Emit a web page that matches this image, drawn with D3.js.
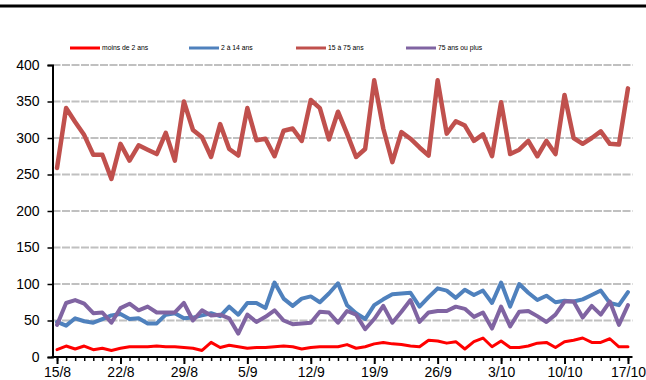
<!DOCTYPE html>
<html>
<head>
<meta charset="utf-8">
<script src="https://cdn.jsdelivr.net/npm/d3@7"></script>
<style>
  html, body { margin: 0; padding: 0; background: #fff; }
  svg { display: block; font-family: "Liberation Sans", Arial, sans-serif; }
</style>
</head>
<body>
<svg id="chart" width="646" height="380"></svg>
<script>
// Daily counts by age group, 15 August to 17 October
const startDate = new Date(2020, 7, 15);
const dayCount = 64;
const dates = d3.range(dayCount).map(i => d3.timeDay.offset(startDate, i));
const dayLabel = d3.timeFormat("%-d/%-m");

const seriesNames = ["moins de 2 ans", "2 à 14 ans", "15 à 75 ans", "75 ans ou plus"];
const seriesColors = ["#ff0000", "#4f81bd", "#c0504d", "#8064a2"];
const seriesWidths = [3, 4, 4.5, 4];

const moinsDe2 = [10, 15, 11, 15, 10, 12, 9, 12, 14, 14, 14, 15, 14, 14, 13, 12,
  9, 20, 13, 16, 14, 12, 13, 13, 14, 15, 14, 11, 13, 14, 14, 14,
  17, 12, 14, 18, 20, 18, 17, 15, 14, 23, 22, 19, 21, 11, 21, 26,
  14, 22, 13, 13, 15, 19, 20, 13, 21, 23, 26, 20, 20, 25, 14, 14];

const de2a14 = [48, 43, 53, 49, 47, 52, 57, 59, 52, 53, 46, 46, 58, 60, 53, 54,
  57, 60, 56, 69, 58, 74, 74, 67, 102, 80, 70, 80, 83, 75, 87, 101,
  71, 60, 52, 71, 79, 86, 87, 88, 69, 82, 94, 91, 81, 92, 85, 91,
  74, 102, 69, 100, 88, 78, 84, 75, 77, 76, 79, 85, 91, 74, 71, 89];

const de15a75 = [259, 341, 322, 304, 277, 277, 244, 292, 269, 290, 284, 278, 307, 269, 350, 311,
  301, 274, 319, 285, 276, 341, 297, 299, 275, 310, 313, 296, 352, 341, 298, 336,
  306, 274, 285, 379, 313, 267, 308, 299, 287, 276, 379, 306, 323, 317, 296, 305,
  275, 349, 278, 284, 296, 275, 296, 278, 359, 300, 292, 300, 309, 292, 291, 368];

const plus75 = [44, 74, 78, 73, 60, 61, 47, 67, 73, 64, 69, 61, 61, 61, 74, 50,
  64, 57, 58, 53, 32, 58, 48, 55, 64, 50, 45, 46, 47, 62, 61, 47,
  63, 58, 38, 52, 70, 47, 62, 78, 48, 61, 63, 63, 69, 66, 55, 61,
  39, 69, 42, 62, 63, 56, 48, 58, 76, 76, 54, 70, 58, 76, 44, 71];

const seriesValues = [moinsDe2, de2a14, de15a75, plus75];
const yTicks = [0, 50, 100, 150, 200, 250, 300, 350, 400];
const labelEvery = 7;

const svg = d3.select("#chart");

// Thick rule across the top
svg.append("rect").attr("x", 0).attr("y", 4.5).attr("width", 646).attr("height", 3).attr("fill", "#000");

const plot = { left: 52.5, right: 632.5, top: 65, bottom: 357 };

const x = d3.scalePoint().domain(dates).range([plot.left, plot.right]).padding(0.5);
const y = d3.scaleLinear().domain([0, 400]).range([plot.bottom, plot.top]);

// Horizontal gridlines
svg.append("g")
  .selectAll("line")
  .data(yTicks.filter(t => t > 0))
  .join("line")
  .attr("x1", plot.left).attr("x2", plot.right)
  .attr("y1", d => y(d)).attr("y2", d => y(d))
  .attr("stroke", "#c0c0c0")
  .attr("stroke-width", 2)
  .attr("stroke-dasharray", "8,1.5");

// Y axis
const yAxis = d3.axisLeft(y).tickValues(yTicks).tickSize(5).tickPadding(8).tickFormat(d3.format("d"));
const gy = svg.append("g").attr("transform", `translate(${plot.left},0)`).call(yAxis);
gy.select(".domain").attr("stroke", "#000").attr("stroke-width", 2);
gy.selectAll(".tick line").attr("stroke", "#000").attr("stroke-width", 1.5);
gy.selectAll("text").attr("font-size", 14).attr("fill", "#000")
  .attr("font-family", "Liberation Sans, Arial, sans-serif");

// X axis: a small tick for every day, longer ticks and labels every week
const gx = svg.append("g").attr("transform", `translate(0,${plot.bottom})`);
gx.call(d3.axisBottom(x).tickValues(dates).tickSize(4).tickFormat(""));
gx.selectAll(".tick line").attr("stroke", "#000").attr("stroke-width", 1.5);
gx.select(".domain").remove();
const labelled = dates.filter((d, i) => i % labelEvery === 0);
const gx2 = svg.append("g").attr("transform", `translate(0,${plot.bottom})`)
  .call(d3.axisBottom(x).tickValues(labelled).tickSize(7).tickPadding(3).tickFormat(dayLabel));
gx2.select(".domain").remove();
gx2.selectAll(".tick line").attr("stroke", "#000").attr("stroke-width", 2);
gx2.selectAll("text").attr("font-size", 14).attr("fill", "#000")
  .attr("font-family", "Liberation Sans, Arial, sans-serif");
svg.append("line")
  .attr("x1", plot.left - 1).attr("x2", plot.right)
  .attr("y1", plot.bottom).attr("y2", plot.bottom)
  .attr("stroke", "#000").attr("stroke-width", 2);

// Series lines
const line = d3.line().x((d, i) => x(dates[i])).y(d => y(d));
svg.append("g")
  .selectAll("path")
  .data(seriesValues)
  .join("path")
  .attr("d", d => line(d))
  .attr("fill", "none")
  .attr("stroke", (d, i) => seriesColors[i])
  .attr("stroke-width", (d, i) => seriesWidths[i])
  .attr("stroke-linejoin", "round")
  .attr("stroke-linecap", "round");

// Legend
const legendX = [70, 189, 296, 406];
const legend = svg.append("g").selectAll("g")
  .data(seriesNames)
  .join("g")
  .attr("transform", (d, i) => `translate(${legendX[i]},48)`);
legend.append("line")
  .attr("x1", 0).attr("x2", 30).attr("y1", 0).attr("y2", 0)
  .attr("stroke", (d, i) => seriesColors[i])
  .attr("stroke-width", 3);
legend.append("text")
  .attr("x", 32).attr("y", 2.4)
  .attr("font-size", 6.8)
  .attr("fill", "#000")
  .text(d => d);
</script>
</body>
</html>
